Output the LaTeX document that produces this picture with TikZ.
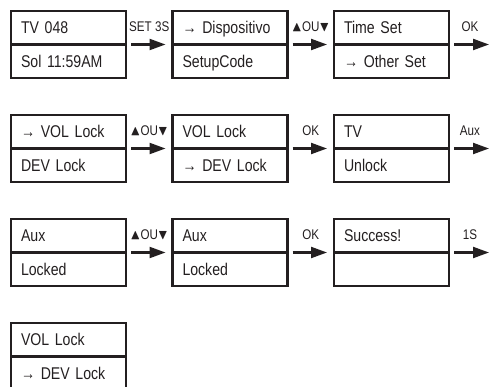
\documentclass[tikz,border=0pt]{standalone}
\usepackage{amssymb}
\usepackage{fontspec}
\setmainfont{Liberation Sans}[FakeStretch=0.83]
\usetikzlibrary{arrows.meta,positioning}
\definecolor{lcdborder}{HTML}{231F20}
\definecolor{lcdtext}{HTML}{231F20}

\begin{document}
\begin{tikzpicture}[
    x=1pt, y=-1pt,
    every node/.style={text=lcdtext},
    lcdbox/.style={
        draw=lcdborder, line width=2.6pt, outer sep=0pt,
        minimum width=115pt, minimum height=33.5pt,
        text width=95pt, inner xsep=10pt, align=left,
        text height=12pt, text depth=0pt,
        font=\fontsize{17}{20}\selectfont
    },
    keylabel/.style={
        font=\fontsize{14}{16}\selectfont,
        above=11pt, inner sep=1pt, text height=10pt, text depth=0pt
    },
    steparrow/.style={
        -{Triangle[length=16pt,width=11pt]}, lcdborder, line width=2.2pt,
        shorten <=5pt, shorten >=7pt
    },
]
\useasboundingbox (0,0) rectangle (489,387);

% ===== Row 1 =====
\node[lcdbox, anchor=north west] (r1a) at (11,11) {TV 048};
\node[lcdbox, below=0pt of r1a] (r1aL) {Sol 11:59AM};

\node[lcdbox, right=46.5pt of r1a] (r1b) {→ Dispositivo};
\node[lcdbox, below=0pt of r1b] (r1bL) {SetupCode};

\node[lcdbox, right=46.5pt of r1b] (r1c) {Time Set};
\node[lcdbox, below=0pt of r1c] (r1cL) {→ Other Set};

% ===== Row 2 =====
\node[lcdbox, below=37pt of r1aL] (r2a) {→ VOL Lock};
\node[lcdbox, below=0pt of r2a] (r2aL) {DEV Lock};

\node[lcdbox, right=46.5pt of r2a] (r2b) {VOL Lock};
\node[lcdbox, below=0pt of r2b] (r2bL) {→ DEV Lock};

\node[lcdbox, right=46.5pt of r2b] (r2c) {TV};
\node[lcdbox, below=0pt of r2c] (r2cL) {Unlock};

% ===== Row 3 =====
\node[lcdbox, below=37pt of r2aL] (r3a) {Aux};
\node[lcdbox, below=0pt of r3a] (r3aL) {Locked};

\node[lcdbox, right=46.5pt of r3a] (r3b) {Aux};
\node[lcdbox, below=0pt of r3b] (r3bL) {Locked};

\node[lcdbox, right=46.5pt of r3b] (r3c) {Success!};
\node[lcdbox, below=0pt of r3c] (r3cL) {};

% ===== Row 4 =====
\node[lcdbox, below=37pt of r3aL] (r4a) {VOL Lock};
\node[lcdbox, below=0pt of r4a] (r4aL) {→ DEV Lock};

% ===== Arrows =====
\coordinate[right=42pt of r1c.south east] (r1out);
\coordinate[right=42pt of r2c.south east] (r2out);
\coordinate[right=42pt of r3c.south east] (r3out);

\draw[steparrow] (r1a.south east) -- (r1b.south west) node[midway, keylabel] {SET 3S};
\draw[steparrow] (r1b.south east) -- (r1c.south west) node[midway, keylabel] {$\blacktriangle$OU$\blacktriangledown$};
\draw[steparrow, shorten >=2pt] (r1c.south east) -- (r1out) node[midway, keylabel] {OK};

\draw[steparrow] (r2a.south east) -- (r2b.south west) node[midway, keylabel] {$\blacktriangle$OU$\blacktriangledown$};
\draw[steparrow] (r2b.south east) -- (r2c.south west) node[midway, keylabel] {OK};
\draw[steparrow, shorten >=2pt] (r2c.south east) -- (r2out) node[midway, keylabel] {Aux};

\draw[steparrow] (r3a.south east) -- (r3b.south west) node[midway, keylabel] {$\blacktriangle$OU$\blacktriangledown$};
\draw[steparrow] (r3b.south east) -- (r3c.south west) node[midway, keylabel] {OK};
\draw[steparrow, shorten >=2pt] (r3c.south east) -- (r3out) node[midway, keylabel] {1S};

\end{tikzpicture}
\end{document}
